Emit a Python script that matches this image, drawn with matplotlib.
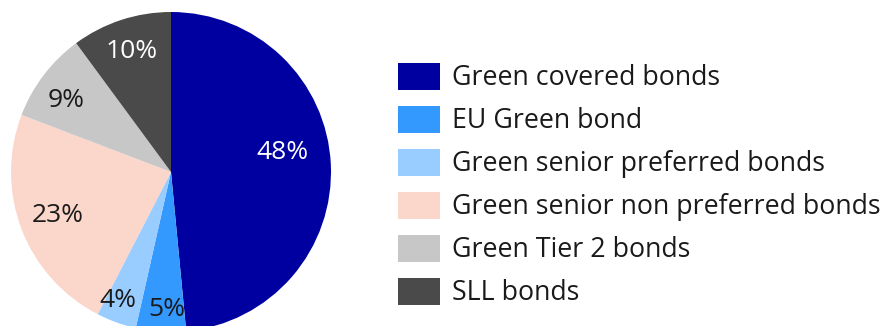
import matplotlib
matplotlib.use("Agg")
import matplotlib.pyplot as plt
from matplotlib.patches import Patch
import numpy as np

plt.rcParams['font.family'] = ['Open Sans', 'DejaVu Sans']

categories = ["Green covered bonds", "EU Green bond", "Green senior preferred bonds",
              "Green senior non preferred bonds", "Green Tier 2 bonds", "SLL bonds"]
values = [48, 5, 4, 23, 9, 10]
colors = ["#0000A0", "#3399FF", "#99CCFF", "#FAD7CA", "#C8C7C8", "#4A4A4A"]
label_colors = ["white", "#1a1a1a", "#1a1a1a", "#1a1a1a", "#1a1a1a", "white"]
label_dist = [0.71, 0.86, 0.87, 0.76, 0.79, 0.79]
label_shift = [7.3, 2.0, -2.5, 0, 3.0, 0]

W, H = 889, 326
fig = plt.figure(figsize=(W / 100, H / 100), dpi=100)
cx, cy, r = 171, 172, 160
ax = fig.add_axes([(cx - r) / W, (H - cy - r) / H, 2 * r / W, 2 * r / H])
wedges, texts = ax.pie(values, colors=colors, startangle=90, counterclock=False,
                       radius=1, wedgeprops=dict(linewidth=0))
for w, d, s, c, v in zip(wedges, label_dist, label_shift, label_colors, values):
    ang = np.deg2rad((w.theta1 + w.theta2) / 2 + s)
    ax.text(d * np.cos(ang), d * np.sin(ang), f"{v}%", ha="center", va="center",
            fontsize=19, color=c)
ax.set_xlim(-1, 1)
ax.set_ylim(-1, 1)
ax.set_aspect("equal")
ax.axis("off")

fs = 19.3
px = fs * 100 / 72
handles = [Patch(facecolor=c, edgecolor="none") for c in colors]
leg = fig.legend(handles, categories, loc="upper left",
                 bbox_to_anchor=(398 / W, 1 - 63 / H), frameon=False,
                 fontsize=fs, borderpad=0, borderaxespad=0,
                 handlelength=42 / px, handleheight=31 / px,
                 handletextpad=12 / px, labelspacing=0.505)
for t in leg.get_texts():
    t.set_color("#1a1a1a")

fig.savefig("out.png", dpi=100)
